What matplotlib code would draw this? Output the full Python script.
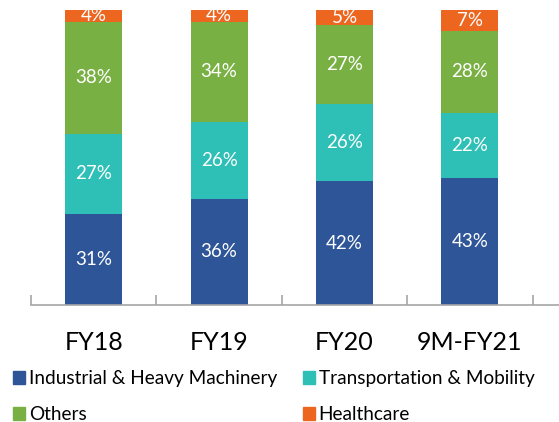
import numpy as np
import matplotlib.pyplot as plt
from matplotlib.patches import Patch

plt.rcParams['font.family'] = ['Lato', 'DejaVu Sans']

# Data
categories = ['FY18', 'FY19', 'FY20', '9M-FY21']
industrial = [31, 36, 42, 43]
transport = [27, 26, 26, 22]
others = [38, 34, 27, 28]
healthcare = [4, 4, 5, 7]

series_names = ['Industrial & Heavy Machinery', 'Transportation & Mobility', 'Others', 'Healthcare']
colors = ['#2E5597', '#2EBFB6', '#79B043', '#EC6620']

fig = plt.figure(figsize=(5.59, 4.22), dpi=100)
ax = fig.add_axes([31/559, (422-305)/422, 1 - 31/559, 295/422])

x = np.arange(len(categories))
width = 0.455
bottom = np.zeros(len(categories))
for vals, name, c in zip([industrial, transport, others, healthcare], series_names, colors):
    vals = np.array(vals, dtype=float)
    ax.bar(x, vals, width, bottom=bottom, color=c, label=name)
    for xi, v, b in zip(x, vals, bottom):
        ax.text(xi, b + v/2, f'{int(v)}%', ha='center', va='center', color='white', fontsize=13.5)
    bottom += vals

ax.set_xlim(-0.5, 3.71)
ax.set_ylim(0, 100)
for s in ['top', 'right', 'left']:
    ax.spines[s].set_visible(False)
ax.spines['bottom'].set_color('#A6A6A6')
ax.spines['bottom'].set_linewidth(1.2)
ax.set_yticks([])
ax.set_xticks([-0.5, 0.5, 1.5, 2.5, 3.5])
ax.set_xticklabels([])
ax.tick_params(axis='x', direction='in', length=7, color='#A6A6A6', width=1.2)

for xi, cat in zip(x, categories):
    ax.text(xi, -12.8, cat, ha='center', va='center', fontsize=18)

handles = [Patch(color=colors[i]) for i in [0, 2, 1, 3]]
labels = [series_names[i] for i in [0, 2, 1, 3]]
fig.legend(handles, labels, ncol=2, loc='upper left', bbox_to_anchor=(13/559, 1 - 370/422),
           frameon=False, fontsize=13.7, handlelength=0.63, handleheight=0.63,
           handletextpad=0.2, columnspacing=1.35, labelspacing=1.0, borderpad=0,
           borderaxespad=0)

fig.savefig('out.png', dpi=100)
